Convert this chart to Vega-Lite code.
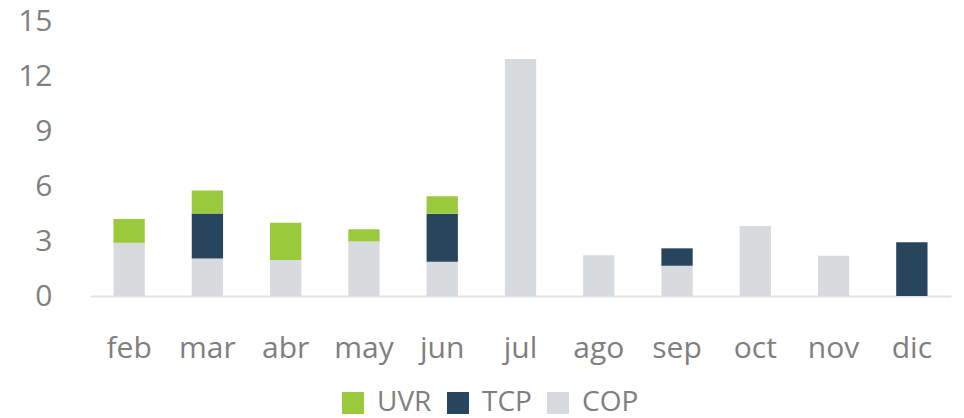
{
  "$schema": "https://vega.github.io/schema/vega-lite/v6.json",
  "width": 861,
  "height": 275,
  "autosize": {"type": "none"},
  "padding": {"left": 90, "top": 21, "right": 13, "bottom": 122},
  "background": "white",
  "config": {"view": {"stroke": null}, "font": "Open Sans"},
  "data": {
    "values": [
      {"mes": "feb", "serie": "COP", "valor": 2.9, "orden": 1},
      {"mes": "feb", "serie": "UVR", "valor": 1.3, "orden": 3},
      {"mes": "mar", "serie": "COP", "valor": 2.05, "orden": 1},
      {"mes": "mar", "serie": "TCP", "valor": 2.45, "orden": 2},
      {"mes": "mar", "serie": "UVR", "valor": 1.25, "orden": 3},
      {"mes": "abr", "serie": "COP", "valor": 1.97, "orden": 1},
      {"mes": "abr", "serie": "UVR", "valor": 2.02, "orden": 3},
      {"mes": "may", "serie": "COP", "valor": 2.98, "orden": 1},
      {"mes": "may", "serie": "UVR", "valor": 0.66, "orden": 3},
      {"mes": "jun", "serie": "COP", "valor": 1.87, "orden": 1},
      {"mes": "jun", "serie": "TCP", "valor": 2.62, "orden": 2},
      {"mes": "jun", "serie": "UVR", "valor": 0.95, "orden": 3},
      {"mes": "jul", "serie": "COP", "valor": 12.93, "orden": 1},
      {"mes": "ago", "serie": "COP", "valor": 2.22, "orden": 1},
      {"mes": "sep", "serie": "COP", "valor": 1.65, "orden": 1},
      {"mes": "sep", "serie": "TCP", "valor": 0.95, "orden": 2},
      {"mes": "oct", "serie": "COP", "valor": 3.82, "orden": 1},
      {"mes": "nov", "serie": "COP", "valor": 2.2, "orden": 1},
      {"mes": "dic", "serie": "TCP", "valor": 2.93, "orden": 2}
    ]
  },
  "mark": {"type": "bar"},
  "encoding": {
    "x": {
      "field": "mes",
      "type": "nominal",
      "sort": ["feb", "mar", "abr", "may", "jun", "jul", "ago", "sep", "oct", "nov", "dic"],
      "scale": {"paddingInner": 0.6, "paddingOuter": 0.3},
      "axis": {
        "title": null,
        "labelAngle": 0,
        "labelFontSize": 30,
        "labelColor": "#7F7F7F",
        "labelPadding": 37,
        "ticks": false,
        "domainColor": "#E3E3E3",
        "domainWidth": 2
      }
    },
    "y": {
      "field": "valor",
      "type": "quantitative",
      "stack": "zero",
      "scale": {"domain": [0, 15]},
      "axis": {
        "title": null,
        "values": [0, 3, 6, 9, 12, 15],
        "labelFontSize": 30,
        "labelColor": "#7F7F7F",
        "labelPadding": 38,
        "ticks": false,
        "domain": false,
        "grid": false
      }
    },
    "color": {
      "field": "serie",
      "type": "nominal",
      "scale": {"domain": ["UVR", "TCP", "COP"], "range": ["#9ACA3C", "#27455C", "#D7DBDE"]},
      "legend": {
        "title": null,
        "orient": "none",
        "direction": "horizontal",
        "legendX": 249,
        "legendY": 368,
        "symbolType": "square",
        "symbolSize": 484,
        "symbolStrokeWidth": 0,
        "labelFontSize": 28,
        "labelColor": "#7F7F7F",
        "labelOffset": 10,
        "columnPadding": 12
      }
    },
    "order": {"field": "orden", "type": "quantitative"}
  }
}
